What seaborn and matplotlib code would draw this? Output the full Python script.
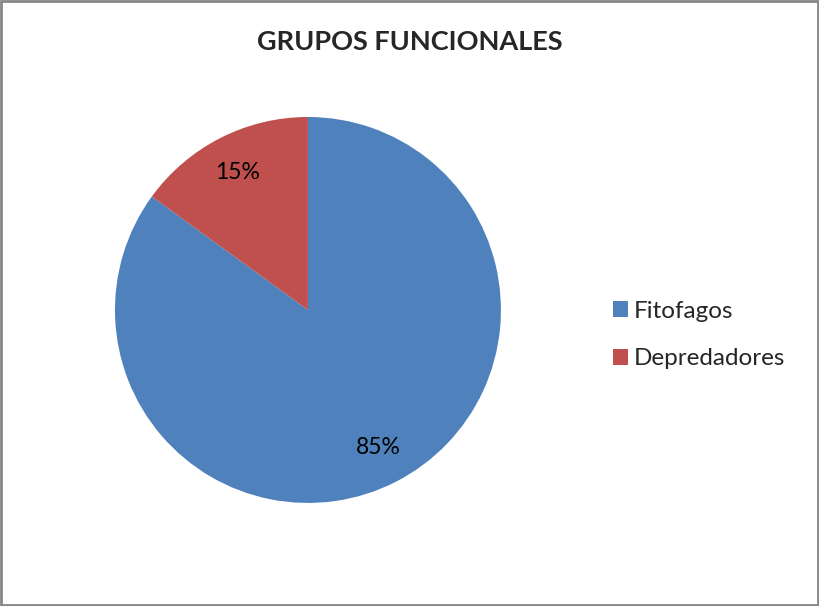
import matplotlib
matplotlib.use("Agg")
import matplotlib.pyplot as plt
import seaborn as sns
from matplotlib.patches import Rectangle

# data
grupos = ["Fitofagos", "Depredadores"]
porcentajes = [85, 15]
colores = sns.color_palette(["#4F81BD", "#C0504D"])

sns.set_theme(style="white")
plt.rcParams["font.family"] = ["Lato", "DejaVu Sans"]

fig = plt.figure(figsize=(8.2, 6.06), dpi=100)
ax = fig.add_axes([0.1402, 0.170, 0.4707, 0.637])

wedges, texts, autotexts = ax.pie(
    porcentajes,
    colors=colores,
    startangle=90,
    counterclock=False,
    autopct="%1.0f%%",
    pctdistance=0.8,
    wedgeprops=dict(linewidth=0),
    textprops=dict(fontsize=16.5, color="black"),
)
ax.set_xlim(-1, 1)
ax.set_ylim(-1, 1)
ax.set_aspect("equal")

fig.text(0.5, 0.931, "GRUPOS FUNCIONALES", ha="center", va="center",
         fontsize=19.5, fontweight="bold")

fig.legend(
    wedges, grupos,
    loc="center left",
    bbox_to_anchor=(0.7476, 0.447),
    frameon=False,
    fontsize=17.5,
    borderpad=0,
    borderaxespad=0,
    handlelength=0.62,
    handleheight=0.62,
    handletextpad=0.25,
    labelspacing=1.1,
)

# gray frame around the chart area
fig.patches.append(Rectangle((0.001, 0.002), 0.997, 0.996, transform=fig.transFigure,
                             fill=False, edgecolor="#868686", linewidth=2))

fig.savefig("out.png", dpi=100)
